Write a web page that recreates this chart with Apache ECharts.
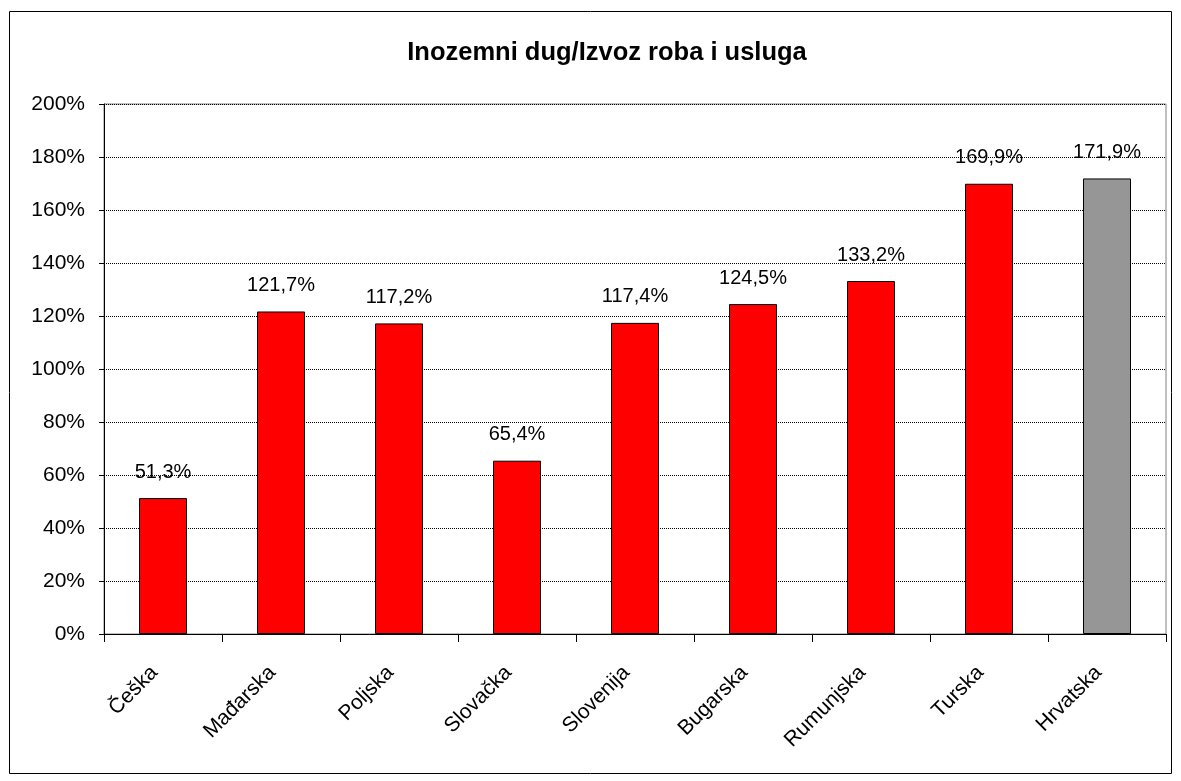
<!DOCTYPE html>
<html>
<head>
<meta charset="utf-8">
<script src="https://cdn.jsdelivr.net/npm/echarts@6/dist/echarts.min.js"></script>
<style>
  html, body { margin: 0; padding: 0; background: #fff; }
  #main { width: 1181px; height: 781px; }
</style>
</head>
<body>
<div id="main"></div>
<script>
// podaci
var zemlje = ['Češka', 'Mađarska', 'Poljska', 'Slovačka', 'Slovenija', 'Bugarska', 'Rumunjska', 'Turska', 'Hrvatska'];
var vrijednosti = [51.3, 121.7, 117.2, 65.4, 117.4, 124.5, 133.2, 169.9, 171.9];
var boje = ['#ff0000', '#ff0000', '#ff0000', '#ff0000', '#ff0000', '#ff0000', '#ff0000', '#ff0000', '#969696'];

var myChart = echarts.init(document.getElementById('main'));

var podaci = [];
for (var i = 0; i < vrijednosti.length; i++) {
    podaci.push({
        value: vrijednosti[i],
        itemStyle: { color: boje[i] }
    });
}

var option = {
    backgroundColor: '#fff',
    animation: false,
    textStyle: { fontFamily: 'Liberation Sans, Arial, sans-serif' },
    title: {
        text: 'Inozemni dug/Izvoz roba i usluga',
        left: 602,
        textAlign: 'center',
        top: 35,
        textStyle: { fontSize: 25.5, fontWeight: 'bold', color: '#000', fontFamily: 'Liberation Sans, Arial, sans-serif' }
    },
    graphic: [{
        type: 'rect',
        shape: { x: 9.5, y: 11.5, width: 1162, height: 762 },
        style: { fill: 'none', stroke: '#000', lineWidth: 1 },
        z: 100
    }],
    grid: {
        left: 104,
        right: 15,
        top: 104,
        bottom: 147,
        show: true,
        borderColor: '#808080',
        borderWidth: 1
    },
    xAxis: {
        type: 'category',
        data: zemlje,
        axisLine: { lineStyle: { color: '#000', width: 1 } },
        axisTick: { show: true, length: 8, lineStyle: { color: '#000' } },
        axisLabel: {
            interval: 0,
            rotate: 45,
            margin: 27,
            padding: [0, 12, 0, 0],
            fontSize: 21,
            color: '#000'
        }
    },
    yAxis: {
        type: 'value',
        min: 0,
        max: 200,
        interval: 20,
        axisLine: { show: true, lineStyle: { color: '#000', width: 1 } },
        axisTick: { show: true, length: 5, lineStyle: { color: '#000' } },
        axisLabel: {
            fontSize: 21,
            color: '#000',
            margin: 19,
            formatter: '{value}%'
        },
        splitLine: { show: true, lineStyle: { color: '#000', type: [1, 1], width: 1 } }
    },
    series: [{
        type: 'bar',
        data: podaci,
        barWidth: 48,
        itemStyle: { borderColor: '#000', borderWidth: 1 },
        label: {
            show: true,
            position: 'top',
            distance: 16,
            fontSize: 20,
            color: '#000',
            formatter: function (p) {
                return p.value.toFixed(1).replace('.', ',') + '%';
            }
        }
    }]
};

myChart.setOption(option);
</script>
</body>
</html>
